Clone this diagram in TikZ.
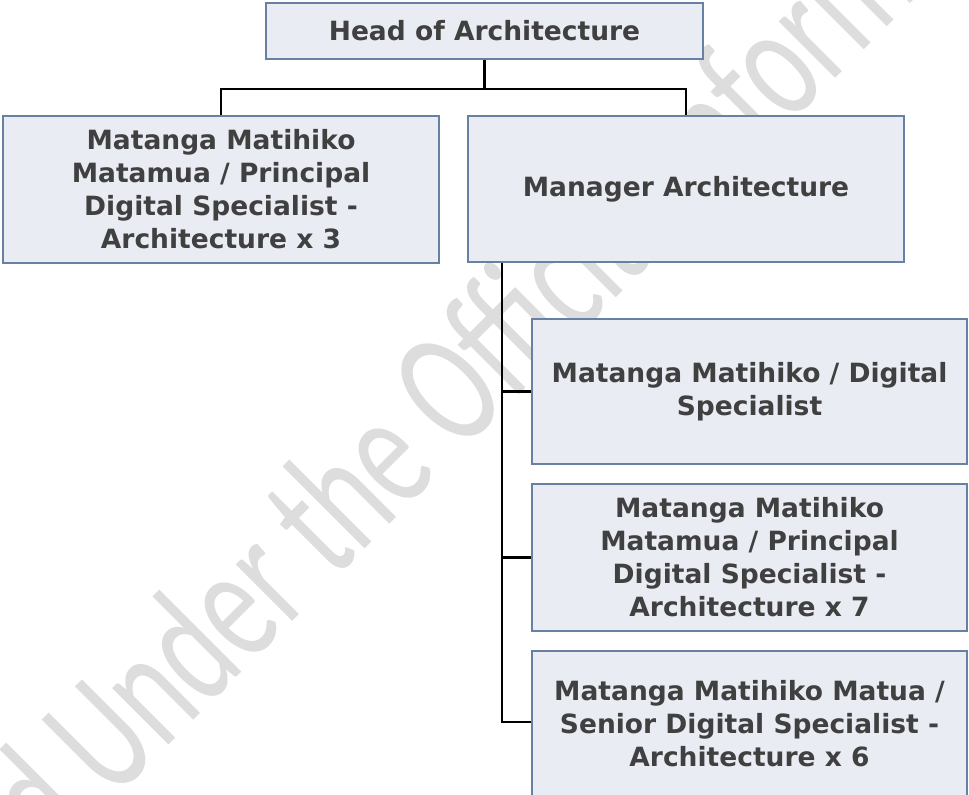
\documentclass[tikz,border=0pt]{standalone}
\usepackage{fontspec}
\setmainfont{DejaVu Sans}
\newfontfamily\wmfont{Carlito}
\usepackage{graphicx}
\definecolor{boxfill}{RGB}{233,236,242}
\definecolor{boxline}{RGB}{104,128,163}
\definecolor{txt}{RGB}{64,64,64}
\definecolor{wm}{RGB}{221,221,221}
\tikzset{
  orgbox/.style={draw=boxline, fill=boxfill, line width=2.4pt, text=txt,
    font=\bfseries\fontsize{26.5}{33}\selectfont, align=center, inner sep=0pt},
  conn/.style={draw=black, line width=2.4pt},
}
\begin{document}
\begin{tikzpicture}[x=1pt,y=-1pt]
\path[use as bounding box, clip] (0,0) rectangle (969,795);
\fill[white] (0,0) rectangle (969,795);
% watermark
\node[wm, anchor=base, rotate=45, inner sep=0pt, font=\wmfont\fontsize{113}{120}\selectfont] (wmk) at (508,406)
  {\scalebox{1}[1.48]{Released Under the Official Information Act}};
% boxes
\node[orgbox, minimum width=437pt, minimum height=56pt] (head) at (484.5,31) {Head of Architecture};
\node[orgbox, minimum width=436pt, minimum height=147pt] (left) at (221,189.5)
  {Matanga Matihiko\\Matamua / Principal\\Digital Specialist -\\Architecture x 3};
\node[orgbox, minimum width=436pt, minimum height=146pt] (mgr) at (686,189) {Manager Architecture};
\node[orgbox, minimum width=435pt, minimum height=145pt] (b1) at (749.5,391.5)
  {Matanga Matihiko / Digital\\Specialist};
\node[orgbox, minimum width=435pt, minimum height=147pt] (b2) at (749.5,557.5)
  {Matanga Matihiko\\Matamua / Principal\\Digital Specialist -\\Architecture x 7};
\node[orgbox, minimum width=435pt, minimum height=146pt] (b3) at (749.5,724)
  {Matanga Matihiko Matua /\\Senior Digital Specialist -\\Architecture x 6};
% connectors
\coordinate (hj) at ([yshift=-29pt]head.south);
\draw[conn] (head.south) -- (hj);
\draw[conn] (hj) -| (left.north);
\draw[conn] (hj) -| (mgr.north);
\coordinate (tr) at ([xshift=35pt]mgr.south west);
\draw[conn] (tr) |- (b1.west);
\draw[conn] (tr) |- (b2.west);
\draw[conn] (tr) |- ([yshift=2pt]b3.west);
\end{tikzpicture}
\end{document}
